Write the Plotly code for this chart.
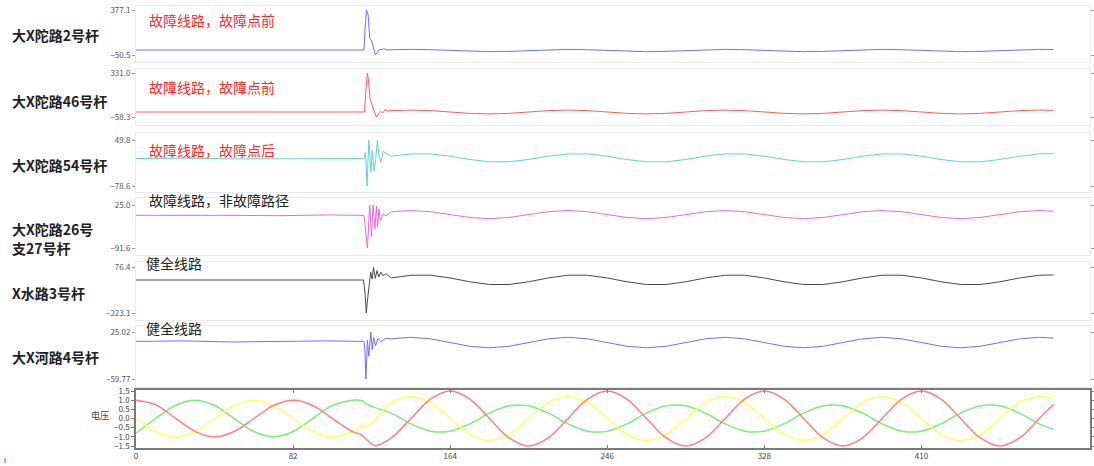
import plotly.graph_objects as go

W, H = 1094, 466

# ---------------- data ----------------
SERIES_NAMES = ["大X陀路2号杆", "大X陀路46号杆", "大X陀路54号杆", "大X陀路26号|支27号杆", "X水路3号杆", "大X河路4号杆"]
NOTES = ["故障线路，故障点前", "故障线路，故障点前", "故障线路，故障点后", "故障线路，非故障路径", "健全线路", "健全线路"]
TICK_MAX = [377.1, 331.0, 49.8, 25.0, 76.4, 25.02]
TICK_MIN = [-50.5, -58.3, -78.6, -91.6, -223.1, -59.77]

T_PRE = [0, 25, 50, 75, 100, 118]
T_POST = [133.25, 143.5, 153.75, 164, 174.25, 184.5, 194.75, 205, 215.25, 225.5, 235.75, 246,
          256.25, 266.5, 276.75, 287, 297.25, 307.5, 317.75, 328, 338.25, 348.5, 358.75, 369,
          379.25, 389.5, 399.75, 410, 420.25, 430.5, 440.75, 451, 461.25, 471.5, 479]

# panel 1
V_PRE_1 = [-3, -4, -2, -4, -3, -3]
T_SPIKE_1 = [119.0, 119.6, 120.3, 121.2, 122.0, 122.8, 123.6, 125.0, 126.8, 128.2, 129.5, 131.0]
V_SPIKE_1 = [-3, 200, 377.1, 330, 106, 95, 40, -50.5, -1, 2, 8, -2]
V_POST_1 = [-0.2, 3, -0.2, -8, -15.8, -19, -15.8, -8, -0.2, 3, -0.2, -8, -15.8, -19, -15.8, -8,
            -0.2, 3, -0.2, -8, -15.8, -19, -15.8, -8, -0.2, 3, -0.2, -8, -15.8, -19, -15.8, -8,
            -0.2, 3, 1.2]
# panel 2
V_PRE_2 = [-14, -13, -15, -14, -13, -14]
T_SPIKE_2 = [119.3, 120.0, 120.8, 121.5, 122.1, 123.0, 124.0, 125.5, 127.5, 129.0, 130.0, 131.5]
V_SPIKE_2 = [-14, 180, 331.0, 250, 110, 57, 10, -58.3, -10, -20, 8, -5]
V_POST_2 = [-2, 3, -2, -14, -26, -31, -26, -14, -2, 3, -2, -14, -26, -31, -26, -14,
            -2, 3, -2, -14, -26, -31, -26, -14, -2, 3, -2, -14, -26, -31, -26, -14,
            -2, 3, 0.3]
# panel 3
V_PRE_3 = [-2, -1, -3, -2, -1, -2]
T_SPIKE_3 = [119.0, 119.8, 120.6, 121.5, 122.6, 123.3, 124.3, 125.1, 126.0, 126.9, 127.8, 129.0, 130.8]
V_SPIKE_3 = [-2, 15, -78.6, 49.8, -40, 22, -37, -5, 49.8, 5, -13, 18, 12]
V_POST_3 = [4.6, 11.1, 11.1, 4.6, -4.6, -11.1, -11.1, -4.6, 4.6, 11.1, 11.1, 4.6, -4.6, -11.1, -11.1, -4.6,
            4.6, 11.1, 11.1, 4.6, -4.6, -11.1, -11.1, -4.6, 4.6, 11.1, 11.1, 4.6, -4.6, -11.1, -11.1, -4.6,
            4.6, 11.1, 11.8]
# panel 4
V_PRE_4 = [-3, -2, -3, -4, -2, -3]
T_SPIKE_4 = [119.0, 119.6, 120.8, 122.0, 122.9, 123.8, 124.7, 125.5, 126.1, 126.8, 127.5, 129.0, 130.5]
V_SPIKE_4 = [-3, -30, -91.6, 25.0, -60, 25.0, -41, 22, -35, 14, -18, 0, -4]
V_POST_4 = [6.8, 10, 6.8, -1, -8.8, -12, -8.8, -1, 6.8, 10, 6.8, -1, -8.8, -12, -8.8, -1,
            6.8, 10, 6.8, -1, -8.8, -12, -8.8, -1, 6.8, 10, 6.8, -1, -8.8, -12, -8.8, -1,
            6.8, 10, 8.2]
# panel 5
V_PRE_5 = [-6, -6, -6, -6, -6, -6]
T_SPIKE_5 = [118.8, 119.6, 120.2, 121.0, 121.7, 122.5, 123.3, 124.0, 124.9, 125.8, 126.8, 127.8, 129.0, 130.5]
V_SPIKE_5 = [-6, -100, -223.1, -120, -20, 45, 0, 76.4, 5, 55, 15, 45, 22, 35]
V_POST_5 = [7.6, 25.5, 25.5, 7.6, -17.6, -35.5, -35.5, -17.6, 7.6, 25.5, 25.5, 7.6, -17.6, -35.5, -35.5, -17.6,
            7.6, 25.5, 25.5, 7.6, -17.6, -35.5, -35.5, -17.6, 7.6, 25.5, 25.5, 7.6, -17.6, -35.5, -35.5, -17.6,
            7.6, 25.5, 27.4]
# panel 6
V_PRE_6 = [8, 9, 7, 8, 9, 8]
T_SPIKE_6 = [119.0, 119.5, 120.0, 120.8, 121.5, 122.6, 123.3, 124.1, 125.0, 126.4, 127.8, 129.5, 131.0]
V_SPIKE_6 = [8, -7, -59.77, 10.4, -18.9, 25.02, -7.1, 15.2, -0.1, 13.4, 7.5, 12, 13.4]
V_POST_6 = [12.7, 15.5, 12.7, 6, -0.7, -3.5, -0.7, 6, 12.7, 15.5, 12.7, 6, -0.7, -3.5, -0.7, 6,
            12.7, 15.5, 12.7, 6, -0.7, -3.5, -0.7, 6, 12.7, 15.5, 12.7, 6, -0.7, -3.5, -0.7, 6,
            12.7, 15.5, 14]

# bottom panel: three phase voltages (per unit)
T_V = [0, 10.25, 20.5, 30.75, 41, 51.25, 61.5, 71.75, 82, 92.25, 102.5, 112.75, 117.5, 121, 125] + T_POST
PHASE_A = [1.0, 0.75, 0.02, -0.7, -1.0, -0.71, 0.0, 0.71, 1.0, 0.71, 0.0, -0.71, -0.88, -1.2, -1.48,
           -1.06, 0, 1.06, 1.5, 1.06, 0, -1.06, -1.5, -1.06, 0, 1.06, 1.5, 1.06, 0, -1.06, -1.5,
           -1.06, 0, 1.06, 1.5, 1.06, 0, -1.06, -1.5, -1.06, 0, 1.06, 1.5, 1.06, 0, -1.06, -1.5, -1.06, 0, 0.78]
PHASE_B = [0.0, -0.71, -1.0, -0.71, 0.0, 0.71, 1.0, 0.71, 0.0, -0.71, -1.0, -0.71, -0.42, -0.42, -0.05,
           0.87, 1.18, 0.87, 0, -0.87, -1.2, -0.87, 0, 0.87, 1.18, 0.87, 0, -0.87, -1.2, -0.87, 0,
           0.87, 1.18, 0.87, 0, -0.87, -1.2, -0.87, 0, 0.87, 1.18, 0.87, 0, -0.87, -1.2, -0.87, 0, 0.87, 1.18, 1.05]
PHASE_C = [-0.8, 0.0, 0.71, 1.0, 0.71, 0.0, -0.71, -1.0, -0.71, 0.0, 0.71, 1.0, 0.98, 0.75, 0.58,
           0.29, -0.29, -0.69, -0.69, -0.29, 0.29, 0.69, 0.69, 0.29, -0.29, -0.69, -0.69, -0.29, 0.29, 0.69, 0.69,
           0.29, -0.29, -0.69, -0.69, -0.29, 0.29, 0.69, 0.69, 0.29, -0.29, -0.69, -0.69, -0.29, 0.29, 0.69, 0.69, 0.29, -0.29, -0.6]
V_TICKS = [-1.5, -1.0, -0.5, 0.0, 0.5, 1.0, 1.5]
X_TICKS = [0, 82, 164, 246, 328, 410]
X_RANGE = [0, 498]

# ---------------- styling / layout ----------------
FONT = "Noto Sans CJK SC, Noto Sans, sans-serif"
COLORS = ["#6f6fff", "#ff5c5c", "#62d2d2", "#e06ee0", "#4a4a4a", "#6f6fff"]
NOTE_COLORS = ["#ff2a2a", "#ff2a2a", "#ff2a2a", "#222222", "#222222", "#222222"]
# frame top, frame bottom, top tick px, bottom tick px
FRAMES = [(6, 62, 10, 55), (69, 125, 73, 117), (133, 192, 140, 186),
          (198, 255, 205, 248), (262, 320, 267.5, 313), (326, 387, 332, 379)]
LABEL_Y = [[35], [101], [165], [229, 248], [293], [357]]
NOTE_XY = [(147, 20), (147, 87), (147, 150), (147, 200), (144, 263), (144, 328)]
X0, X1 = 136, 1090

def fmt(v):
    return str(v).replace("-", "\u2212")

pre_t = [T_PRE] * 6
spikes_t = [T_SPIKE_1, T_SPIKE_2, T_SPIKE_3, T_SPIKE_4, T_SPIKE_5, T_SPIKE_6]
pre_v = [V_PRE_1, V_PRE_2, V_PRE_3, V_PRE_4, V_PRE_5, V_PRE_6]
spikes_v = [V_SPIKE_1, V_SPIKE_2, V_SPIKE_3, V_SPIKE_4, V_SPIKE_5, V_SPIKE_6]
post_v = [V_POST_1, V_POST_2, V_POST_3, V_POST_4, V_POST_5, V_POST_6]

fig = go.Figure()
layout = dict(width=W, height=H, autosize=False, margin=dict(l=0, r=0, t=0, b=0, autoexpand=False),
              paper_bgcolor="white", plot_bgcolor="white", showlegend=False,
              font=dict(family=FONT, color="#333"))
annotations = []

for i in range(6):
    n = i + 1
    ft, fb, pt, pb = FRAMES[i]
    vmax, vmin = TICK_MAX[i], TICK_MIN[i]
    s = (vmax - vmin) / (pb - pt)
    r = [vmin - (fb - pb) * s, vmax + (pt - ft) * s]
    fig.add_trace(go.Scatter(x=pre_t[i] + spikes_t[i] + T_POST,
                             y=pre_v[i] + spikes_v[i] + post_v[i],
                             mode="lines", line=dict(color=COLORS[i], width=1),
                             xaxis=f"x{n}", yaxis=f"y{n}", hoverinfo="skip"))
    layout[f"xaxis{n}"] = dict(domain=[X0 / W, X1 / W], range=X_RANGE, anchor=f"y{n}", automargin=False,
                               showgrid=False, zeroline=False, showline=True, mirror=True,
                               linecolor="#ebebeb", linewidth=1, showticklabels=False, ticks="")
    layout[f"yaxis{n}"] = dict(domain=[1 - fb / H, 1 - ft / H], range=r, anchor=f"x{n}", automargin=False,
                               showgrid=False, zeroline=False, showline=True, mirror="ticks",
                               linecolor="#ebebeb", linewidth=1, ticks="outside", ticklen=3,
                               tickcolor="#999", tickvals=[vmin, vmax],
                               ticktext=[fmt(vmin), fmt(vmax)],
                               tickfont=dict(size=8, color="#555"))
    parts = SERIES_NAMES[i].split("|")
    for txt, yc in zip(parts, LABEL_Y[i]):
        annotations.append(dict(text="<b>" + txt + "</b>", xref="paper", yref="paper", x=10 / W, y=1 - yc / H,
                                xanchor="left", yanchor="middle", showarrow=False,
                                font=dict(size=14, color="#222", family=FONT)))
    nx, ny = NOTE_XY[i]
    annotations.append(dict(text=NOTES[i], xref="paper", yref="paper", x=nx / W, y=1 - ny / H,
                            xanchor="left", yanchor="middle", showarrow=False,
                            font=dict(size=14, color=NOTE_COLORS[i], family=FONT)))

# bottom voltage panel
ft, fb, pt, pb = 390, 448, 391, 446
s = 3.0 / (pb - pt)
r7 = [-1.5 - (fb - pb) * s, 1.5 + (pt - ft) * s]
for vals, col in [(PHASE_C, "#7fea7f"), (PHASE_B, "#ffff6a"), (PHASE_A, "#ff8080")]:
    fig.add_trace(go.Scatter(x=T_V, y=vals, mode="lines",
                             line=dict(color=col, width=1.5, shape="spline", smoothing=1.0),
                             xaxis="x7", yaxis="y7", hoverinfo="skip"))
layout["xaxis7"] = dict(domain=[X0 / W, X1 / W], range=X_RANGE, anchor="y7", automargin=False,
                        showgrid=False, zeroline=False, showline=True, mirror="ticks",
                        linecolor="#7a7a7a", linewidth=1.5, ticks="inside", ticklen=3,
                        tickcolor="#7a7a7a", tickvals=X_TICKS, ticktext=[str(v) for v in X_TICKS],
                        tickfont=dict(size=8, color="#444"))
layout["yaxis7"] = dict(domain=[1 - fb / H, 1 - ft / H], range=r7, anchor="x7", automargin=False,
                        showgrid=False, zeroline=False, showline=True, mirror="ticks",
                        linecolor="#7a7a7a", linewidth=1.5, ticks="outside", ticklen=3,
                        tickcolor="#7a7a7a", tickvals=V_TICKS, ticktext=[fmt(f"{v:.1f}") for v in V_TICKS],
                        tickfont=dict(size=8, color="#444"))
annotations.append(dict(text="电压", xref="paper", yref="paper", x=100 / W, y=1 - 415 / H,
                        xanchor="center", yanchor="middle", showarrow=False,
                        font=dict(size=9, color="#444", family=FONT)))
layout["annotations"] = annotations
layout["shapes"] = [dict(type="line", xref="paper", yref="paper", x0=5 / W, x1=5 / W,
                         y0=1 - 458 / H, y1=1 - 463 / H, line=dict(color="#5c5", width=1.5))]
fig.update_layout(**layout)
fig.write_html("out.html", config={"displayModeBar": False},
               post_script="document.body.style.margin='0';document.body.style.overflow='hidden';")
